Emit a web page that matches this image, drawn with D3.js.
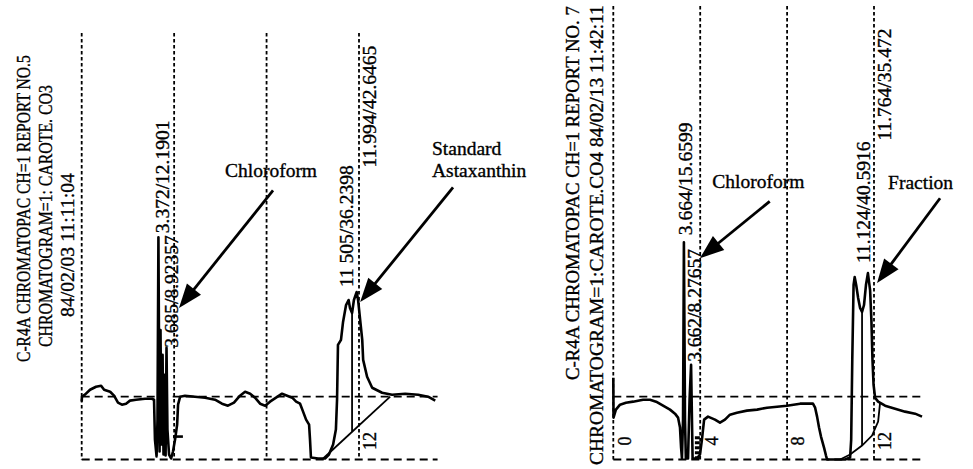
<!DOCTYPE html>
<html><head><meta charset="utf-8">
<script src="https://cdn.jsdelivr.net/npm/d3@7"></script>
<style>
body{margin:0;background:#fff}
svg{display:block}
text{font-family:"Liberation Serif","Times New Roman",serif;fill:#000;stroke:#000;stroke-width:0.35px}
</style>
</head><body>
<svg id="c" width="973" height="469"></svg>
<script>
// ---------- data (time in minutes, signal in arbitrary units, baseline = 0) ----------
const gridTimes = [0, 4, 8, 12];
const leftTickLabels = [12];
const rightTickLabels = [0, 4, 8, 12];
const leftTitle = ["C-R4A CHROMATOPAC CH=1 REPORT NO.5", "CHROMATOGRAM=1: CAROTE. CO3", "84/02/03 11:11:04"];
const rightTitle = ["C-R4A CHROMATOPAC CH=1 REPORT NO. 7", "CHROMATOGRAM=1:CAROTE.CO4 84/02/13 11:42:11"];

const leftTrace = [
[0.00,-0.79],[0.01,0],[0.14,0.32],[0.36,1.11],[0.62,1.59],[0.84,1.75],[0.97,1.11],[1.23,0.79],[1.40,0.16],
[1.57,-0.95],[1.74,-1.27],[1.92,-1.11],[2.09,-0.63],[2.35,-0.48],[2.74,-0.32],[3.04,-0.32],[3.13,-0.48],
[3.17,-6.83],[3.24,-9.52],[3.28,-3.65],[3.32,25.40],[3.37,-8.73],[3.41,10.63],[3.45,-7.62],[3.50,6.67],
[3.54,-9.21],[3.58,3.49],[3.63,-9.37],[3.67,7.78],[3.71,-5.24],[3.78,-9.21],[3.87,-9.84],[3.95,-8.73],
[4.04,-6.83],[4.13,-4.44],[4.17,-1.27],[4.26,0],[4.47,0.16],[4.90,0],[5.34,-0.16],[5.77,-0.48],[6.07,-1.11],
[6.33,-1.43],[6.59,-0.95],[6.85,0.16],[7.07,0.79],[7.29,0.48],[7.50,-0.16],[7.72,-1.11],[7.94,-1.43],
[8.15,-0.79],[8.41,-0.16],[8.67,0.48],[8.89,0.16],[9.11,-0.16],[9.28,-0.79],[9.45,-1.11],[9.58,-2.38],
[9.71,-3.65],[9.84,-4.44],[9.88,-6.83],[9.92,-9.68],[10.23,-9.84],[10.53,-9.84],[10.70,-9.21],[10.88,-7.62],
[11.00,-5.24],[11.05,-0.48],[11.09,8.25],[11.22,9.05],[11.31,11.90],[11.44,14.60],[11.55,15.40],[11.61,14.13],
[11.70,13.33],[11.78,15.40],[11.90,16.67],[11.96,15.40],[12.05,12.22],[12.14,9.05],[12.18,5.87],[12.35,3.17],
[12.57,1.43],[13.00,0.63],[13.43,0.32],[14.00,0.48],[14.56,0.32],[14.99,0],[15.30,-0.63]
];
const leftTail = [[3.95,-6.35],[4.38,-6.35]];
const leftIntegration = [[10.45,-9.84],[13.35,0]];
const leftDrops = [[11.70,13.33]];
const leftEnd = 15.4;

const rightTrace = [
[0.00,3.02],[0.01,-3.33],[0.12,-2.06],[0.31,-1.27],[0.58,-0.95],[0.91,-0.79],[1.37,-0.48],[1.69,-0.48],
[1.97,-0.79],[2.29,-1.43],[2.61,-2.06],[2.84,-2.70],[2.98,-3.33],[3.07,-4.92],[3.12,-8.10],[3.16,-9.84],
[3.21,-3.65],[3.25,24.60],[3.30,-3.65],[3.34,-9.84],[3.44,-9.84],[3.51,-0.48],[3.58,5.08],[3.65,-9.84],
[3.85,-9.84],[3.99,-9.21],[4.08,-6.83],[4.18,-3.65],[4.36,-3.17],[4.68,-3.65],[4.91,-4.13],[5.14,-3.65],
[5.37,-2.86],[5.69,-2.54],[6.15,-2.22],[6.62,-2.06],[7.08,-1.75],[7.54,-1.59],[7.99,-1.43],[8.60,-1.11],
[9.19,-1.11],[9.29,-1.75],[9.38,-3.17],[9.47,-4.92],[9.56,-6.35],[9.70,-8.10],[9.79,-9.37],[9.84,-10],
[10.21,-10],[10.67,-10],[10.90,-9.68],[10.95,-6.83],[11.00,5.87],[11.06,17.78],[11.11,19.05],[11.18,17.78],
[11.27,15.71],[11.36,14.13],[11.45,13.49],[11.54,14.60],[11.63,17.78],[11.72,19.68],[11.82,16.98],
[11.88,12.22],[11.93,5.87],[11.98,1.90],[12.05,-0.16],[12.19,-0.79],[12.51,-1.43],[12.97,-1.90],
[13.43,-2.38],[13.89,-2.70],[14.21,-3.17]
];
const rightIntegration = [[10.44,-10],[10.90,-9.21],[11.45,-7.78],[11.91,-6.19],[12.19,-3.97],[12.28,-0.95]];
const rightDrops = [[11.45,13.49]];
const rightStipple = [[3.87,-6.3,-10]];
const rightEnd = 14.25;

const leftPeakLabels = [
  {text:"3.372/12.1901", t:3.48, v:26.03},
  {text:"3.685/8.92357", t:3.87, v:7.78},
  {text:"11 505/36.2398", t:11.46, v:17.46},
  {text:"11.994/42.6465", t:12.44, v:36.51}
];
const rightPeakLabels = [
  {text:"3.664/15.6599", t:3.30, v:25.71},
  {text:"3.662/8.27657", t:3.72, v:5.56},
  {text:"11.124/40.5916", t:11.50, v:21.27},
  {text:"11.764/35.472", t:12.46, v:40.79}
];
const leftNotes = [
  {lines:["Chloroform"], t:6.20, v:34.92, from:[8.28,32.86], to:[4.21,14.13]},
  {lines:["Standard","Astaxanthin"], t:15.16, v:38.41, from:[16.07,33.33], to:[12.05,15.08]}
];
const rightNotes = [
  {lines:["Chloroform"], t:4.56, v:33.3, from:[7.20,31.1], to:[3.99,22.06]},
  {lines:["Fraction"], t:12.65, v:33.0, from:[15.04,31.6], to:[12.14,18.10]}
];

// ---------- drawing ----------
const svg = d3.select("#c");
const FS = 19.5;

function vtext(g, x, yb, str, size, len, anchor) {
  const t = g.append("text")
    .attr("transform", `translate(${x},${yb}) rotate(-90)`)
    .attr("dy", "0.35em")
    .attr("text-anchor", anchor || "start")
    .style("font-size", size + "px")
    .text(str);
  if (len) {
    const n = t.node().getComputedTextLength();
    if (n > 0) t.attr("transform", `translate(${x},${yb}) rotate(-90) scale(${len / n},1)`);
  }
  return t;
}

function arrow(g, x1, y1, x2, y2) {
  const dx = x2 - x1, dy = y2 - y1, L = Math.hypot(dx, dy);
  const ux = dx / L, uy = dy / L, nx = -uy, ny = ux;
  const hl = 24, hw = 9;
  const bx = x2 - ux * hl, by = y2 - uy * hl;
  g.append("line").attr("x1", x1).attr("y1", y1).attr("x2", bx + ux * 2).attr("y2", by + uy * 2)
    .attr("stroke", "#000").attr("stroke-width", 2.8);
  g.append("path").attr("d", `M${x2},${y2}L${bx + nx * hw},${by + ny * hw}L${bx - nx * hw},${by - ny * hw}Z`)
    .attr("fill", "#000");
}

function panel(cfg) {
  const g = svg.append("g");
  const x = d3.scaleLinear().domain([0, 12]).range(cfg.xr);
  const y = d3.scaleLinear().domain([-10, 60]).range([459.5, 459.5 - 70 * 6.28]);

  // vertical dotted time grid
  g.selectAll(".vg").data(gridTimes).join("line")
    .attr("x1", d => x(d)).attr("x2", d => x(d))
    .attr("y1", y(cfg.gridTop)).attr("y2", y(-10))
    .attr("stroke", "#000").attr("stroke-width", 1.8).attr("stroke-dasharray", "3.5,2.5");
  // horizontal dashed baseline and floor
  g.selectAll(".hg").data([0, -10]).join("line")
    .attr("x1", x(0)).attr("x2", x(cfg.end))
    .attr("y1", d => y(d)).attr("y2", d => y(d))
    .attr("stroke", "#000").attr("stroke-width", 1.8).attr("stroke-dasharray", "8,5");

  const line = d3.line().x(d => x(d[0])).y(d => y(d[1]));
  // integration baseline
  g.append("path").attr("d", line(cfg.integration)).attr("fill", "none")
    .attr("stroke", "#000").attr("stroke-width", 1.8);
  const baseAt = t => {
    const b = cfg.integration;
    for (let i = 1; i < b.length; i++) {
      if (t <= b[i][0]) {
        const f = (t - b[i - 1][0]) / (b[i][0] - b[i - 1][0]);
        return b[i - 1][1] + f * (b[i][1] - b[i - 1][1]);
      }
    }
    return b[b.length - 1][1];
  };
  g.selectAll(".drop").data(cfg.drops).join("line")
    .attr("x1", d => x(d[0])).attr("x2", d => x(d[0]))
    .attr("y1", d => y(d[1])).attr("y2", d => y(baseAt(d[0])))
    .attr("stroke", "#000").attr("stroke-width", 1.8);
  if (cfg.tail) g.append("path").attr("d", line(cfg.tail)).attr("fill", "none")
    .attr("stroke", "#000").attr("stroke-width", 2.6);
  if (cfg.stipple) g.selectAll(".st").data(cfg.stipple).join("line")
    .attr("x1", d => x(d[0])).attr("x2", d => x(d[0]))
    .attr("y1", d => y(d[1])).attr("y2", d => y(d[2]))
    .attr("stroke", "#000").attr("stroke-width", 5).attr("stroke-dasharray", "3,2");
  // trace
  g.append("path").attr("d", line(cfg.trace)).attr("fill", "none")
    .attr("stroke", "#000").attr("stroke-width", 2.6).attr("stroke-linejoin", "round");

  // time tick labels
  cfg.ticks.forEach(t => vtext(g, x(t) + 11, 441, String(t), 18, null, "middle"));
  // peak labels
  cfg.peaks.forEach(p => vtext(g, x(p.t), y(p.v), p.text, FS));
  // titles
  cfg.titles.forEach((s, i) => vtext(g, cfg.titleX[i], cfg.titleB[i], s, FS, cfg.titleLen[i]));
  // notes with arrows
  cfg.notes.forEach(n => {
    n.lines.forEach((s, i) => g.append("text").attr("x", x(n.t)).attr("y", y(n.v) + i * 22)
      .style("font-size", FS + "px").text(s));
    arrow(g, x(n.from[0]), y(n.from[1]), x(n.to[0]), y(n.to[1]));
  });
}

panel({
  xr: [81.7, 359], end: leftEnd, gridTop: 57.9,
  trace: leftTrace, tail: leftTail, integration: leftIntegration, drops: leftDrops, stipple: null,
  ticks: leftTickLabels, peaks: leftPeakLabels, notes: leftNotes,
  titles: leftTitle, titleX: [23, 45, 67], titleB: [362, 347, 317], titleLen: [307, 262, 144]
});
panel({
  xr: [613.3, 874], end: rightEnd, gridTop: 62.2,
  trace: rightTrace, tail: null, integration: rightIntegration, drops: rightDrops, stipple: rightStipple,
  ticks: rightTickLabels, peaks: rightPeakLabels, notes: rightNotes,
  titles: rightTitle, titleX: [572, 596], titleB: [380, 465], titleLen: [374, 460]
});
</script>
</body></html>
